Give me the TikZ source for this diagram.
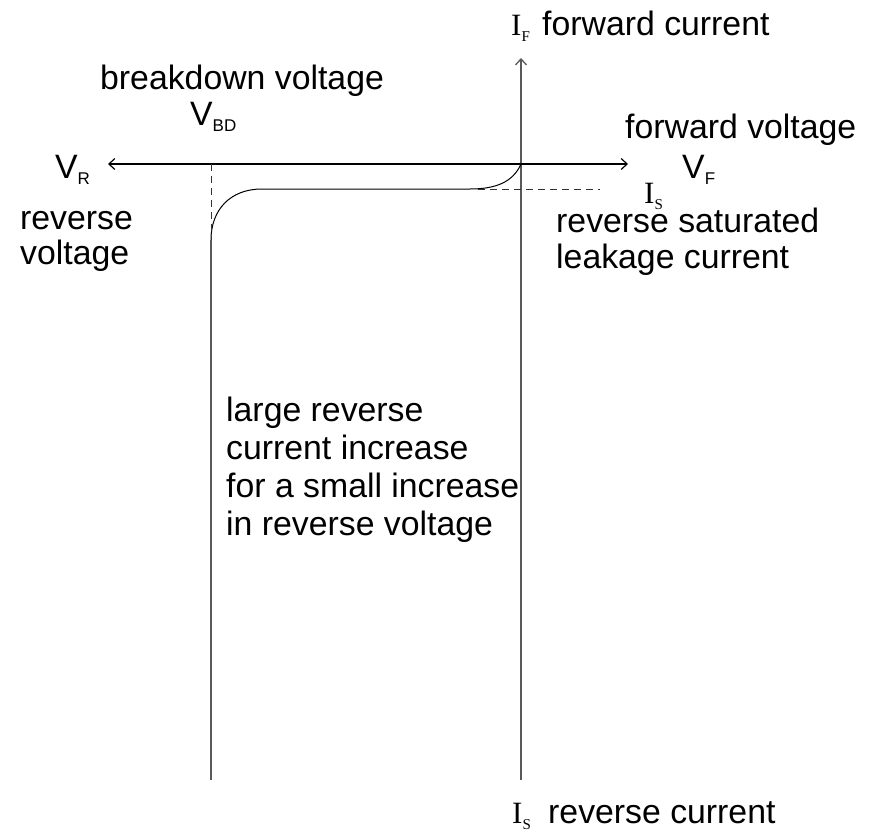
\documentclass[tikz,border=0pt]{standalone}
\usepackage{fontspec}
\setmainfont{Liberation Sans}
\newfontfamily\seriffam{Liberation Serif}
\usetikzlibrary{arrows.meta}
\newcommand{\subsans}[1]{\raisebox{-6pt}{\fontsize{17}{17}\selectfont #1}}
\newcommand{\subser}[1]{\raisebox{-6.5pt}{\seriffam\fontsize{15}{15}\selectfont #1}}
\begin{document}
\begin{tikzpicture}[x=1pt,y=-1pt,
  lbl/.style={inner sep=0pt, anchor=base west, font=\fontsize{33.8}{37}\selectfont},
  serlbl/.style={inner sep=0pt, anchor=base west, font=\seriffam\fontsize{31}{37}\selectfont},
  hax/.style={line width=1.2pt, black},
  vax/.style={line width=1.3pt, black!65},
  curveline/.style={line width=1pt, black},
  dashline/.style={line width=1pt, black!80, dash pattern=on 7pt off 5pt}
]
\useasboundingbox (0,0) rectangle (876,835);

% axes
\coordinate (vbot) at (521,780);
\coordinate (vtop) at (521,58);
\coordinate (hl) at (108,164);
\coordinate (hr) at (628,164);
\coordinate (o) at (521,164);
\draw[vax, -{Straight Barb[length=6pt,width=11pt]}] (vbot) -- (vtop);
\draw[hax, {Straight Barb[length=6pt,width=11pt]}-{Straight Barb[length=6pt,width=11pt]}] (hl) -- (hr);

% characteristic curve
\coordinate (k1) at (470,189);
\coordinate (k2) at (262,189);
\coordinate (k3) at (211,240);
\coordinate (lbot) at (211,780);
\draw[curveline] (o) .. controls (513,182) and (496,189) .. (k1) -- (k2)
  .. controls (230,189) and (211,210) .. (k3);
\draw[vax] (k3) -- (lbot);

% dashed guides
\coordinate (d1) at (211,164);
\coordinate (d2) at (478,189);
\coordinate (d3) at (600,189);
\draw[dashline] (d1) -- (k3);
\draw[dashline] (d2) -- (d3);

% labels
\node[serlbl] (IF) at (511,35) {I\subser{F}};
\node[lbl] (fc) at (542,35) {forward current};
\node[lbl] (bd) at (100,89) {breakdown voltage};
\node[lbl] (VBD) at (190,125) {V\subsans{BD}};
\node[lbl] (fv) at (625,138) {forward voltage};
\node[lbl] (VR) at (55,178) {V\subsans{R}};
\node[lbl] (VF) at (682,178) {V\subsans{F}};
\node[serlbl] (IS1) at (644,203) {I\subser{S}};
\node[lbl] (rv1) at (20,229) {reverse};
\node[lbl] (rv2) at (20,264) {voltage};
\node[lbl] (rs1) at (556,232) {reverse saturated};
\node[lbl] (rs2) at (556,268) {leakage current};
\node[lbl] (t1) at (226,421) {large reverse};
\node[lbl] (t2) at (226,459) {current increase};
\node[lbl] (t3) at (226,497) {for a small increase};
\node[lbl] (t4) at (226,535) {in reverse voltage};
\node[serlbl] (IS2) at (512,823) {I\subser{S}};
\node[lbl] (rc) at (548,823) {reverse current};
\end{tikzpicture}
\end{document}
